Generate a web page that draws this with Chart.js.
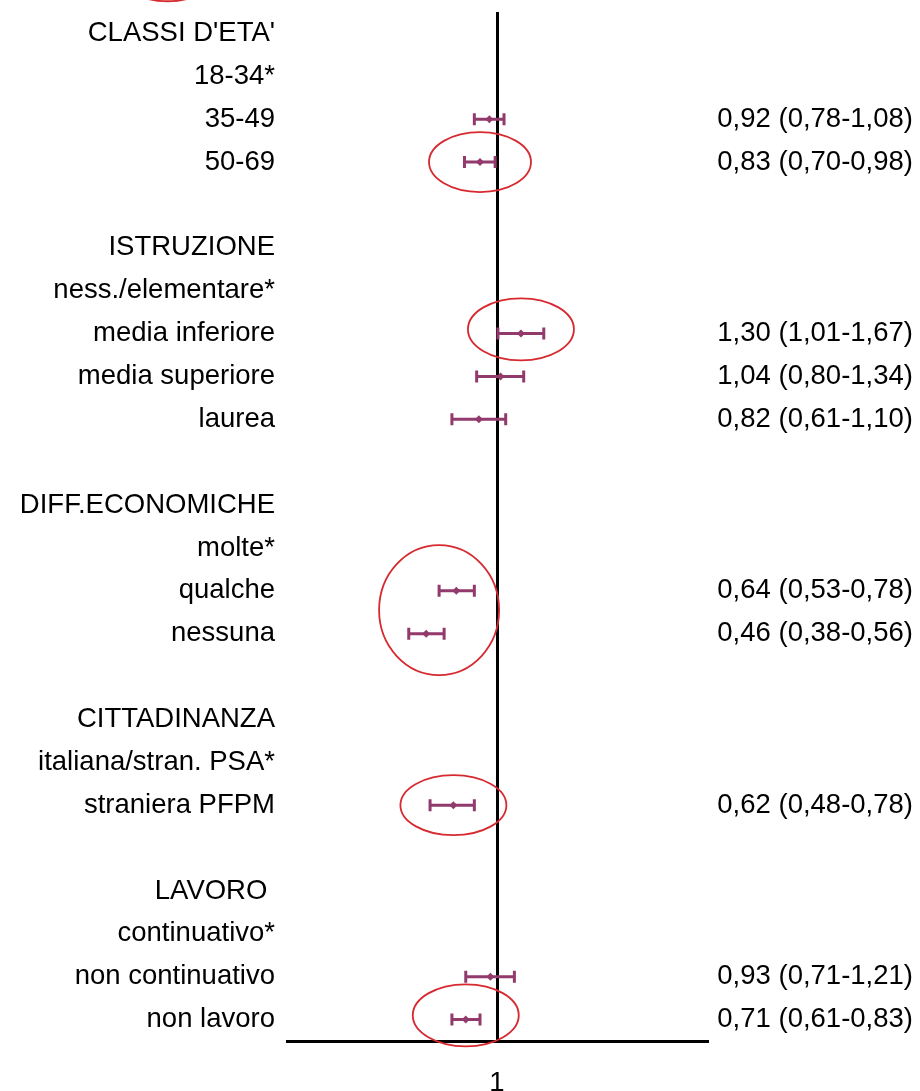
<!DOCTYPE html>
<html>
<head>
<meta charset="utf-8">
<script src="https://cdn.jsdelivr.net/npm/chart.js@4.4.1/dist/chart.umd.min.js"></script>
<style>
	html, body { margin: 0; padding: 0; background: #fff; overflow: hidden; }
	#wrap { width: 920px; height: 1100px; }
</style>
</head>
<body>
<div id="wrap"><canvas id="myChart"></canvas></div>
<script>
// rows of the forest plot (blank rows separate the groups)
const categories = [
	"CLASSI D'ETA'", "18-34*", "35-49", "50-69", "",
	"ISTRUZIONE", "ness./elementare*", "media inferiore", "media superiore", "laurea", "",
	"DIFF.ECONOMICHE", "molte*", "qualche", "nessuna", "",
	"CITTADINANZA", "italiana/stran. PSA*", "straniera PFPM", "",
	"LAVORO ", "continuativo*", "non continuativo", "non lavoro",
];
const oddsRatio = [null, null, 0.92, 0.83, null, null, null, 1.30, 1.04, 0.82, null, null, null, 0.64, 0.46, null, null, null, 0.62, null, null, null, 0.93, 0.71];
const ciLow = [null, null, 0.78, 0.70, null, null, null, 1.01, 0.80, 0.61, null, null, null, 0.53, 0.38, null, null, null, 0.48, null, null, null, 0.71, 0.61];
const ciHigh = [null, null, 1.08, 0.98, null, null, null, 1.67, 1.34, 1.10, null, null, null, 0.78, 0.56, null, null, null, 0.78, null, null, null, 1.21, 0.83];
const xTicks = [1];

const barColor = "#923a6c";
const fontSpec = { family: "'Liberation Sans', Arial, sans-serif", size: 27.5 };

const fmt = (v) => v.toFixed(2).replace(".", ",");

// error bars with end caps, drawn through the scales
const errorBars = {
	id: "errorBars",
	beforeDatasetsDraw(chart) {
		const { ctx, scales } = chart;
		ctx.save();
		ctx.strokeStyle = barColor;
		ctx.lineWidth = 3;
		ciLow.forEach((lo, i) => {
			if (lo == null) return;
			const x0 = scales.x.getPixelForValue(lo);
			const x1 = scales.x.getPixelForValue(ciHigh[i]);
			const yy = scales.y.getPixelForValue(i);
			ctx.beginPath();
			ctx.moveTo(x0, yy);
			ctx.lineTo(x1, yy);
			ctx.moveTo(x0, yy - 6);
			ctx.lineTo(x0, yy + 6);
			ctx.moveTo(x1, yy - 6);
			ctx.lineTo(x1, yy + 6);
			ctx.stroke();
		});
		ctx.restore();
	},
};

// red highlight ellipses: [row, value, rx, ry]
const highlights = [
	[-1.45, 0.027, 50, 30],
	[3, 0.83, 51, 30],
	[6.9, 1.3, 53, 31],
	[13.45, 0.53, 60, 65],
	[18, 0.62, 53, 30],
	[22.9, 0.71, 53, 31],
];
const ellipses = {
	id: "ellipses",
	afterDraw(chart) {
		const { ctx, scales } = chart;
		ctx.save();
		ctx.strokeStyle = "#d62a30";
		ctx.lineWidth = 1.8;
		highlights.forEach(([row, v, rx, ry]) => {
			ctx.beginPath();
			ctx.ellipse(scales.x.getPixelForValue(v), scales.y.getPixelForValue(row), rx, ry, 0, 0, Math.PI * 2);
			ctx.stroke();
		});
		ctx.restore();
	},
};

// fixed side widths, no extra label padding on the row axes
const fixSide = (w) => (s) => {
	s.width = w;
	s.paddingTop = 0;
	s.paddingBottom = 0;
};

const ctx = document.getElementById("myChart");
const myChart = new Chart(ctx, {
	type: "line",
	data: {
		labels: categories,
		datasets: [
			{
				data: oddsRatio,
				showLine: false,
				pointStyle: "rectRot",
				pointRadius: 4,
				pointBackgroundColor: barColor,
				pointBorderColor: barColor,
				pointBorderWidth: 0,
			},
		],
	},
	options: {
		indexAxis: "y",
		responsive: true,
		maintainAspectRatio: false,
		animation: false,
		layout: { padding: { top: 12, right: 7 } },
		plugins: {
			legend: { display: false },
			tooltip: { enabled: false },
		},
		scales: {
			x: {
				type: "logarithmic",
				min: 0.1,
				max: 10,
				afterBuildTicks: (s) => {
					s.ticks = xTicks.map((v) => ({ value: v }));
				},
				afterFit: (s) => {
					s.height = 59;
					s.paddingLeft = 0;
					s.paddingRight = 0;
				},
				ticks: {
					color: "#000",
					font: fontSpec,
					padding: 26,
					maxRotation: 0,
					callback: (v) => String(v),
				},
				grid: { color: "#000", lineWidth: 3, drawTicks: false },
				border: { color: "#000", width: 3 },
			},
			y: {
				type: "category",
				position: "left",
				offset: true,
				afterFit: fixSide(287),
				ticks: { color: "#000", font: fontSpec, padding: 12, autoSkip: false },
				grid: { display: false, drawTicks: false },
				border: { display: false },
			},
			y2: {
				type: "category",
				position: "right",
				offset: true,
				afterFit: fixSide(206),
				ticks: {
					color: "#000",
					font: fontSpec,
					padding: 7,
					autoSkip: false,
					crossAlign: "far",
					callback: (v, i) => (oddsRatio[i] == null ? "" : `${fmt(oddsRatio[i])} (${fmt(ciLow[i])}-${fmt(ciHigh[i])})`),
				},
				grid: { display: false, drawTicks: false },
				border: { display: false },
			},
		},
	},
	plugins: [errorBars, ellipses],
});
</script>
</body>
</html>
